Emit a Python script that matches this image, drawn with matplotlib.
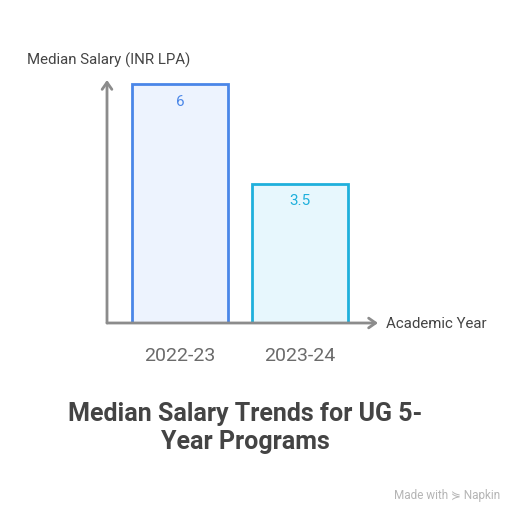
import matplotlib.pyplot as plt

plt.rcParams['font.family'] = ['Roboto', 'DejaVu Sans']

# Data
years = ['2022-23', '2023-24']
salary = [6, 3.5]
edge_colors = ['#4a86e8', '#1fb0dc']
fill_colors = ['#edf3fe', '#e7f7fd']

W, H = 516, 514
fig = plt.figure(figsize=(W / 100, H / 100), dpi=100)

# axes box in pixels: x 107..378, y 80..323
ax = fig.add_axes([107 / W, 1 - 323 / H, (378 - 107) / W, (323 - 80) / H])
ax.set_xlim(-0.608, 1.65)
ax.set_ylim(0, 6.1)

xs = range(len(years))
ax.bar(xs, salary, width=0.8, color=fill_colors, edgecolor=edge_colors, linewidth=2, zorder=2)
for x, v, c in zip(xs, salary, edge_colors):
    ax.text(x, v - 0.44, f'{v:g}', ha='center', va='center', color=c, fontsize=11)

for s in ax.spines.values():
    s.set_visible(False)
ax.set_xticks(list(xs))
ax.set_xticklabels(years, fontsize=14, color='#6b6b6b')
ax.tick_params(axis='x', length=0, pad=17)
ax.set_yticks([])

# axis arrows
arrow = dict(arrowstyle='->,head_length=0.5,head_width=0.35', color='#8c8c8c', lw=2,
             shrinkA=0, shrinkB=0)
ax.annotate('', xy=(0, 1), xytext=(0, 0), xycoords='axes fraction', arrowprops=arrow, zorder=3)
ax.annotate('', xy=(1, 0), xytext=(0, 0), xycoords='axes fraction', arrowprops=arrow, zorder=3)

fig.text(27 / W, 1 - 60 / H, 'Median Salary (INR LPA)', fontsize=10.8, color='#444444',
         ha='left', va='center')
fig.text(386 / W, 1 - 324 / H, 'Academic Year', fontsize=10.8, color='#444444',
         ha='left', va='center')

fig.text(245 / W, 1 - 428 / H, 'Median Salary Trends for UG 5-\nYear Programs', fontsize=18,
         fontweight='bold', color='#444444', ha='center', va='center', linespacing=1.2)

fig.text(500 / W, 1 - 496 / H, 'Made with ⋟ Napkin', fontsize=8.5, color='#b5b5b5',
         ha='right', va='center')

fig.savefig('out.png', dpi=100)
